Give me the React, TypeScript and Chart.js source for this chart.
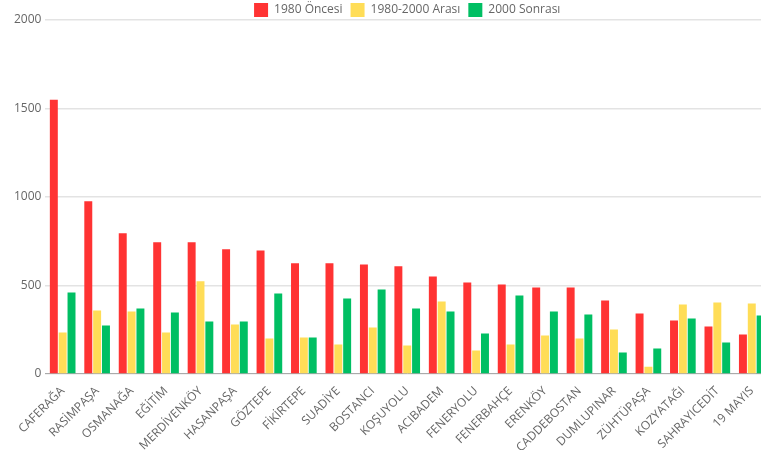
import { useEffect, useRef } from "react";
import { Chart, registerables } from "chart.js";

Chart.register(...registerables);

const categories = [
  "CAFERAĞA", "RASİMPAŞA", "OSMANAĞA", "EĞİTİM", "MERDİVENKÖY", "HASANPAŞA", "GÖZTEPE",
  "FİKİRTEPE", "SUADİYE", "BOSTANCI", "KOŞUYOLU", "ACIBADEM", "FENERYOLU", "FENERBAHÇE",
  "ERENKÖY", "CADDEBOSTAN", "DUMLUPINAR", "ZÜHTÜPAŞA", "KOZYATAĞI", "SAHRAYICEDİT", "19 MAYIS",
];

const before1980 = [1550, 976, 795, 744, 744, 704, 698, 625, 625, 619, 608, 551, 517, 506, 489, 489, 415, 341, 302, 268, 223];
const between1980_2000 = [234, 358, 353, 234, 523, 279, 200, 206, 166, 262, 160, 409, 132, 166, 217, 200, 251, 41, 392, 404, 398];
const after2000 = [460, 274, 370, 347, 296, 296, 455, 206, 426, 477, 370, 353, 228, 443, 353, 336, 121, 143, 313, 177, 330];

const seriesLabels = ["1980 Öncesi", "1980-2000 Arası", "2000 Sonrası"];
const seriesColors = ["#ff3333", "#ffdd57", "#00bf63"];

const FONT = "'Open Sans', sans-serif";

const legendAlignPlugin = {
  id: "legendAlign",
  beforeDraw(chart: any) {
    const lg = chart.legend;
    if (lg && chart.chartArea) {
      lg.left = chart.chartArea.left;
      lg.right = chart.chartArea.right;
      lg.width = lg.right - lg.left;
    }
  },
};

export default function App() {
  const ref = useRef<HTMLCanvasElement | null>(null);

  useEffect(() => {
    if (!ref.current) return;
    const chart = new Chart(ref.current, {
      type: "bar",
      data: {
        labels: categories,
        datasets: [before1980, between1980_2000, after2000].map((d, i) => ({
          label: seriesLabels[i],
          data: d,
          backgroundColor: seriesColors[i],
          borderWidth: 0,
          categoryPercentage: 0.77,
          barPercentage: 0.9,
        })),
      },
      plugins: [legendAlignPlugin],
      options: {
        responsive: false,
        animation: false,
        devicePixelRatio: 1,
        layout: { padding: { left: 10, right: 41, top: -5, bottom: -7 } },
        plugins: {
          tooltip: { enabled: false },
          legend: {
            position: "top",
            maxHeight: 25,
            labels: {
              boxWidth: 14,
              boxHeight: 14,
              padding: 8,
              color: "#666",
              font: { family: FONT, size: 12 },
            },
          },
        },
        scales: {
          x: {
            grid: { display: false },
            border: { display: true, color: "#aaaaaa", width: 1 },
            ticks: {
              color: "#666",
              font: { family: FONT, size: 12 },
              minRotation: 45,
              maxRotation: 45,
              autoSkip: false,
              padding: 2,
            },
          },
          y: {
            min: 0,
            max: 2000,
            ticks: {
              stepSize: 500,
              color: "#666",
              font: { family: FONT, size: 12 },
              padding: 4,
              callback: (v: any) => String(v),
            },
            grid: { color: "#e3e3e3", lineWidth: 1.5, drawTicks: false },
            border: { display: false },
          },
        },
      },
    });
    return () => chart.destroy();
  }, []);

  return (
    <div style={{ position: "absolute", left: 0, top: 0, width: 761, height: 450, overflow: "hidden", background: "#fff" }}>
      <canvas ref={ref} width={810} height={450} style={{ display: "block" }} />
    </div>
  );
}
